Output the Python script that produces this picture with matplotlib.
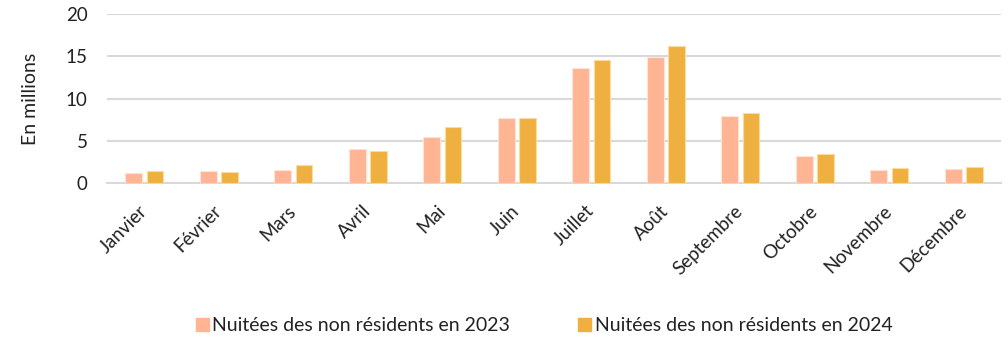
import matplotlib
matplotlib.use('Agg')
import numpy as np
import matplotlib.pyplot as plt
from matplotlib.patches import Patch

mois = ['Janvier', 'Février', 'Mars', 'Avril', 'Mai', 'Juin', 'Juillet',
        'Août', 'Septembre', 'Octobre', 'Novembre', 'Décembre']
nuitees_2023 = [1.22, 1.45, 1.6, 4.05, 5.5, 7.67, 13.65, 14.87, 7.95, 3.19, 1.53, 1.73]
nuitees_2024 = [1.41, 1.33, 2.2, 3.81, 6.61, 7.71, 14.56, 16.17, 8.26, 3.46, 1.81, 1.97]
labels = ['Nuitées des non résidents en 2023', 'Nuitées des non résidents en 2024']

col_2023 = '#FFB494'
col_2024 = '#F0B041'
txt = '#222222'

plt.rcParams['font.family'] = ['Lato', 'DejaVu Sans']

fig = plt.figure(figsize=(10.08, 3.38), dpi=100)
ax = fig.add_axes([0.1062, 0.4577, 0.887, 0.5009])

x = np.arange(len(mois))
w = 0.225
ax.bar(x - 0.143, nuitees_2023, w, color=col_2023, edgecolor='#FFE3D6', linewidth=0.8, zorder=3)
ax.bar(x + 0.143, nuitees_2024, w, color=col_2024, edgecolor='#FBDC9C', linewidth=0.8, zorder=3)

ax.set_xlim(-0.5, len(mois) - 0.5)
ax.set_ylim(0, 20)
ax.set_yticks([0, 5, 10, 15, 20])
ax.grid(axis='y', color='#d9d9d9', linewidth=1.5, zorder=0)
for s in ['top', 'right', 'left']:
    ax.spines[s].set_visible(False)
ax.spines['bottom'].set_color('#d9d9d9')
ax.spines['bottom'].set_linewidth(1.5)
ax.tick_params(axis='y', length=0, pad=14, labelsize=13.5, labelcolor=txt)
ax.tick_params(axis='x', length=0, pad=18, labelsize=13.5, labelcolor=txt)
ax.set_xticks(x)
ax.set_xticklabels(mois, rotation=45, ha='right', va='center', rotation_mode='anchor')
ax.set_ylabel('En millions', fontsize=14, color=txt, labelpad=19)

handles = [Patch(color=col_2023), Patch(color=col_2024)]
fig.legend(handles, labels, loc='lower center', bbox_to_anchor=(0.54, -0.04), ncol=2,
           frameon=False, fontsize=14, handlelength=0.65, handleheight=0.65,
           handletextpad=0.2, columnspacing=3.5, labelcolor=txt)

fig.savefig('out.png', dpi=100)
